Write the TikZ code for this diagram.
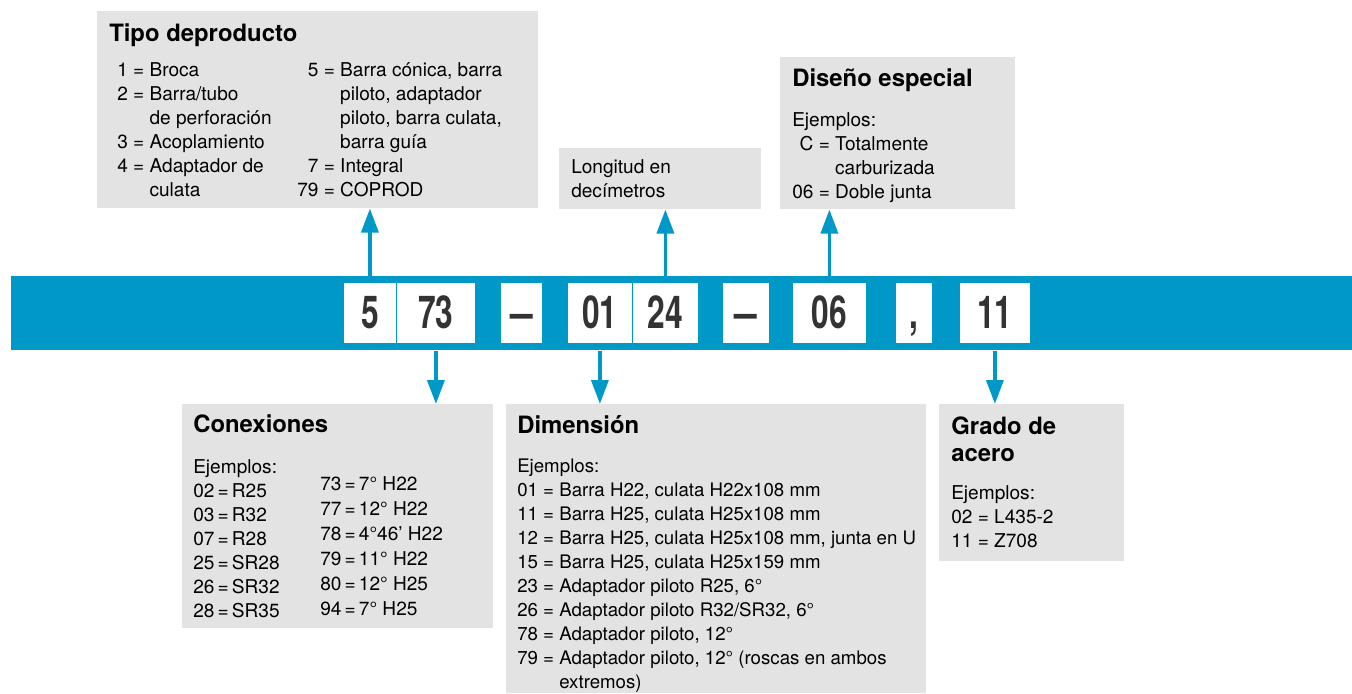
\documentclass[tikz,border=0pt]{standalone}
\usepackage{fontspec}
\setmainfont{TeX Gyre Heros}
\usetikzlibrary{arrows.meta}
\definecolor{bandblue}{HTML}{0098C7}
\definecolor{boxgray}{HTML}{E3E3E3}
\definecolor{digitgray}{HTML}{333333}
\newcommand\cond[1]{\scalebox{0.7}[1]{#1}}

\begin{document}
\begin{tikzpicture}[x=0.75pt,y=-0.75pt,>={Triangle[length=18pt,width=12.75pt]},
  info box/.style={fill=boxgray,anchor=north west,inner sep=0pt},
  code box/.style={fill=white,draw=bandblue,line width=0.6pt,anchor=north west,inner sep=0pt,
    minimum height=45.75pt,text height=24pt,text depth=0pt,text=digitgray,
    font=\fontsize{34}{34}\selectfont\bfseries},
  head/.style={anchor=base west,inner sep=0pt,font=\fontsize{17.9}{20.25}\selectfont\bfseries},
  body/.style={anchor=base west,inner sep=0pt,font=\fontsize{14.3}{18}\selectfont},
  link/.style={->,draw=bandblue,line width=2.6pt}]
  \useasboundingbox (0,0) rectangle (1352,693);

  % boxes
  \node[info box,minimum width=330.75pt,minimum height=147.75pt] (tipo) at (97,11) {};
  \node[info box,minimum width=151.5pt,minimum height=45.75pt] (longitud) at (559,148) {};
  \node[info box,minimum width=176.25pt,minimum height=114pt] (diseno) at (780,57) {};
  \node[info box,minimum width=233.25pt,minimum height=168pt] (conex) at (182,404) {};
  \node[info box,minimum width=315pt,minimum height=216.75pt] (dimension) at (506,404) {};
  \node[info box,minimum width=138.75pt,minimum height=117.75pt] (grado) at (939,404) {};

  % code band
  \node[info box,fill=bandblue,minimum width=1005.75pt,minimum height=55.5pt] (band) at (11,276) {};
  \node[code box,minimum width=39.75pt] (d5) at (343,282) {\cond{5}};
  \node[code box,minimum width=59.25pt] (d73) at (396,282) {\cond{73}};
  \node[code box,minimum width=31.5pt] (dash1) at (500,282) {\scalebox{0.9}[1]{--}};
  \node[code box,minimum width=48.75pt] (d01) at (567,282) {\cond{01}};
  \node[code box,minimum width=49.5pt] (d24) at (632,282) {\cond{24}};
  \node[code box,minimum width=35.25pt] (dash2) at (722,282) {\scalebox{0.9}[1]{--}};
  \node[code box,minimum width=55.5pt] (d06) at (792,282) {\cond{06}};
  \node[code box,minimum width=27.75pt] (comma) at (895,282) {\cond{,}};
  \node[code box,minimum width=53.25pt] (d11) at (959,282) {\cond{11}};

  % arrows
  \draw[link] (d5.center |- band.north) -- (d5.center |- tipo.south);
  \draw[link] (d24.center |- band.north) -- (d24.center |- longitud.south);
  \draw[link] (d06.center |- band.north) -- (d06.center |- diseno.south);
  \draw[link] (d73.center |- band.south) -- (d73.center |- conex.north);
  \draw[link] (d01.center |- band.south) -- (d01.center |- dimension.north);
  \draw[link] (d11.center |- band.south) -- (d11.center |- grado.north);

  % Tipo de producto
  \node[head] (tipoT) at (109,41) {Tipo deproducto};
  \node[body] (tipoA) at (117,76) {\begin{tabular}[t]{@{}r@{\ }c@{\ }l@{}}
    1 & = & Broca\\ 2 & = & Barra/tubo\\ & & de perforación\\
    3 & = & Acoplamiento\\ 4 & = & Adaptador de\\ & & culata\end{tabular}};
  \node[body] (tipoB) at (297,76) {\begin{tabular}[t]{@{}r@{\ }c@{\ }l@{}}
    5 & = & Barra cónica, barra\\ & & piloto, adaptador\\ & & piloto, barra culata,\\
    & & barra guía\\ 7 & = & Integral\\ 79 & = & COPROD\end{tabular}};

  % Longitud
  \node[body] (longT) at (571,173) {\begin{tabular}[t]{@{}l@{}}Longitud en\\ decímetros\end{tabular}};

  % Diseno especial
  \node[head] (disT) at (792,86) {Diseño especial};
  \node[body] (disA) at (792,126) {\begin{tabular}[t]{@{}r@{\ }c@{\ }l@{}}
    \multicolumn{3}{@{}l@{}}{Ejemplos:}\\ C & = & Totalmente\\ & & carburizada\\
    06 & = & Doble junta\end{tabular}};

  % Conexiones
  \node[head] (conT) at (193,432) {Conexiones};
  \node[body] (conA) at (193,473) {\begin{tabular}[t]{@{}r@{\,}c@{\,}l@{}}
    \multicolumn{3}{@{}l@{}}{Ejemplos:}\\ 02 & = & R25\\ 03 & = & R32\\ 07 & = & R28\\
    25 & = & SR28\\ 26 & = & SR32\\ 28 & = & SR35\end{tabular}};
  \node[body] (conB) at (320,490) {\def\arraystretch{1.042}\begin{tabular}[t]{@{}r@{\,}c@{\,}l@{}}
    73 & = & 7° H22\\ 77 & = & 12° H22\\ 78 & = & 4°46' H22\\
    79 & = & 11° H22\\ 80 & = & 12° H25\\ 94 & = & 7° H25\end{tabular}};

  % Dimension
  \node[head] (dimT) at (517,433) {Dimensión};
  \node[body,font=\fontsize{14}{18}\selectfont] (dimA) at (517,472) {\begin{tabular}[t]{@{}r@{\ }c@{\ }l@{}}
    \multicolumn{3}{@{}l@{}}{Ejemplos:}\\
    01 & = & Barra H22, culata H22x108 mm\\
    11 & = & Barra H25, culata H25x108 mm\\
    12 & = & Barra H25, culata H25x108 mm, junta en U\\
    15 & = & Barra H25, culata H25x159 mm\\
    23 & = & Adaptador piloto R25, 6°\\
    26 & = & Adaptador piloto R32/SR32, 6°\\
    78 & = & Adaptador piloto, 12°\\
    79 & = & Adaptador piloto, 12° (roscas en ambos\\
    & & extremos)\end{tabular}};

  % Grado de acero
  \node[head] (graT) at (951,434) {\begin{tabular}[t]{@{}l@{}}Grado de\\ acero\end{tabular}};
  \node[body] (graA) at (951,499) {\begin{tabular}[t]{@{}r@{\ }c@{\ }l@{}}
    \multicolumn{3}{@{}l@{}}{Ejemplos:}\\ 02 & = & L435-2\\ 11 & = & Z708\end{tabular}};
\end{tikzpicture}
\end{document}
